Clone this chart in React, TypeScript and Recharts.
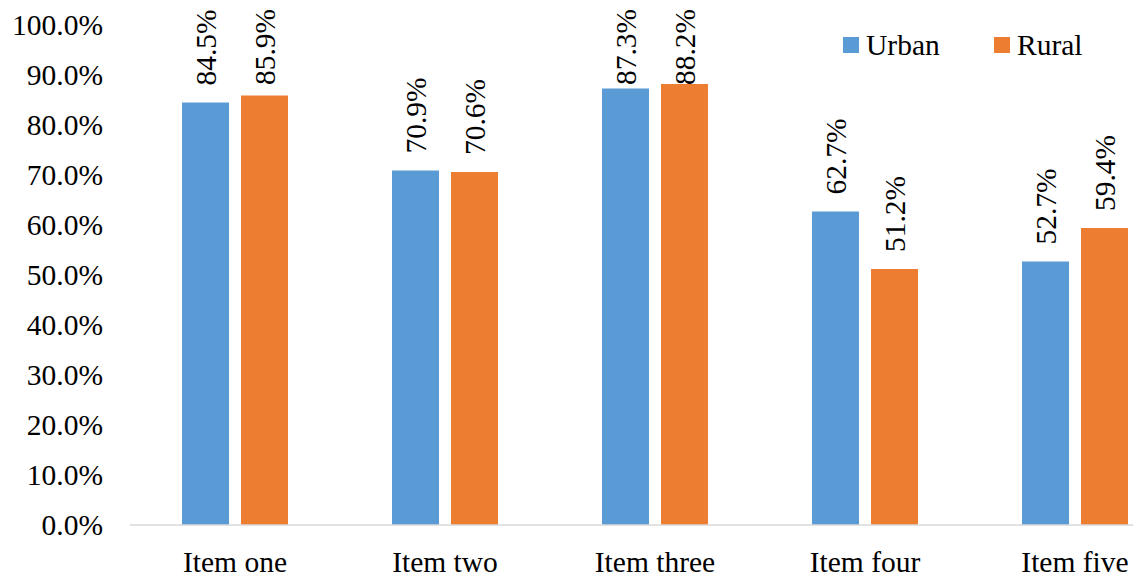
import React from 'react';
import { BarChart, Bar, XAxis, YAxis, LabelList } from 'recharts';

// values (percent)
const categories = ['Item one', 'Item two', 'Item three', 'Item four', 'Item five'];
const urban = [84.5, 70.9, 87.3, 62.7, 52.7];
const rural = [85.9, 70.6, 88.2, 51.2, 59.4];
const yTicks = [0, 10, 20, 30, 40, 50, 60, 70, 80, 90, 100];

const data = categories.map((name, i) => ({ name, urban: urban[i], rural: rural[i] }));

const FONT = '"Liberation Serif", "Times New Roman", serif';
const BLUE = '#5B9BD5';
const ORANGE = '#ED7D31';

// rotated value label above each bar; pushed down near the top like Excel does
const VerticalLabel = (props: any) => {
  const { x, y, width, value } = props;
  const cx = Number(x) + Number(width) / 2;
  const cy = Math.max(Number(y) - 17, 85);
  return (
    <text
      transform={`translate(${cx}, ${cy}) rotate(-90)`}
      textAnchor="start"
      dominantBaseline="central"
      fontFamily={FONT}
      fontSize={29.5}
      fill="#000"
    >
      {`${Number(value).toFixed(1)}%`}
    </text>
  );
};

const legendItems = [
  { label: 'Urban', color: BLUE, left: 843 },
  { label: 'Rural', color: ORANGE, left: 994 },
];

export default function App() {
  return (
    <div
      style={{
        position: 'fixed',
        left: 0,
        top: 0,
        width: 1133,
        height: 577,
        overflow: 'hidden',
        background: '#fff',
      }}
    >
      <BarChart
        width={1250}
        height={577}
        data={data}
        margin={{ top: 25, right: 70, bottom: 22, left: 0 }}
        barSize={47}
        barGap={12}
      >
        <XAxis
          dataKey="name"
          height={30}
          axisLine={{ stroke: '#D9D9D9', strokeWidth: 1.5 }}
          tickLine={false}
          tickSize={0}
          tickMargin={26}
          tick={{ fontFamily: FONT, fontSize: 29.5, fill: '#000' }}
          interval={0}
        />
        <YAxis
          width={130}
          domain={[0, 100]}
          ticks={yTicks}
          axisLine={false}
          tickLine={false}
          tickSize={0}
          tickMargin={27}
          tickFormatter={(v: number) => `${v.toFixed(1)}%`}
          tick={{ fontFamily: FONT, fontSize: 29.5, fill: '#000' }}
        />
        <Bar dataKey="urban" name="Urban" fill={BLUE} isAnimationActive={false}>
          <LabelList dataKey="urban" content={<VerticalLabel />} />
        </Bar>
        <Bar dataKey="rural" name="Rural" fill={ORANGE} isAnimationActive={false}>
          <LabelList dataKey="rural" content={<VerticalLabel />} />
        </Bar>
      </BarChart>
      {/* legend overlay, top right */}
      {legendItems.map((it) => (
        <div
          key={it.label}
          style={{
            position: 'absolute',
            left: it.left,
            top: 30,
            display: 'flex',
            alignItems: 'center',
            fontFamily: FONT,
            fontSize: 29.5,
            color: '#000',
            lineHeight: '30px',
          }}
        >
          <span style={{ display: 'inline-block', width: 16, height: 16, background: it.color, marginRight: 7 }} />
          {it.label}
        </div>
      ))}
    </div>
  );
}
